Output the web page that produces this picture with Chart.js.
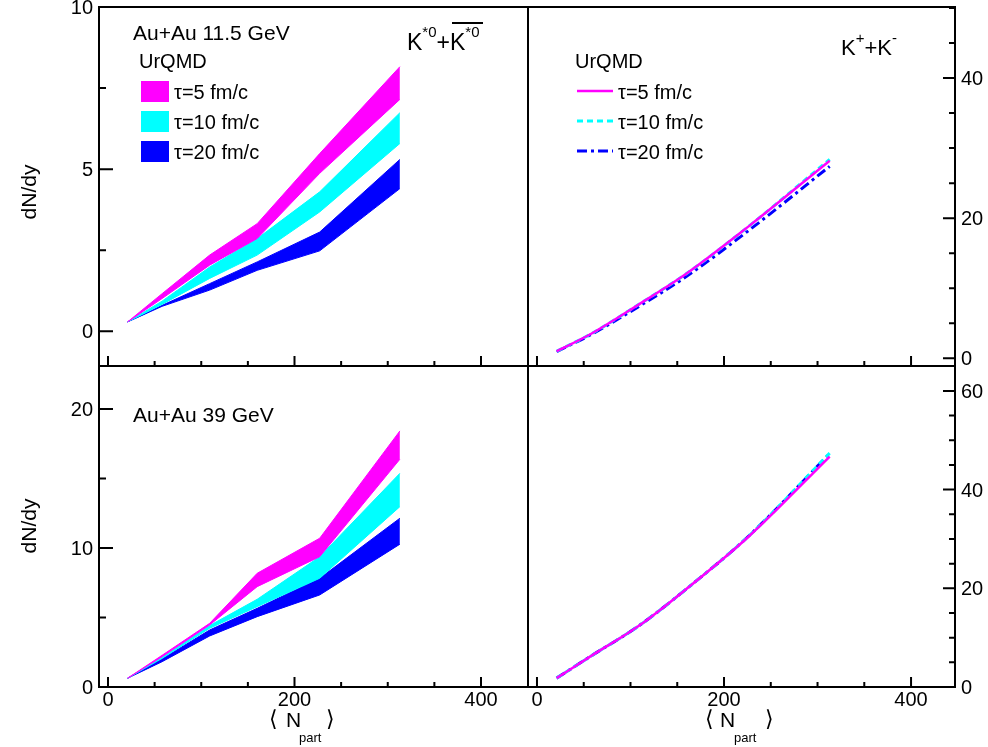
<!DOCTYPE html>
<html>
<head>
<meta charset="utf-8">
<script src="https://cdn.jsdelivr.net/npm/chart.js@4.4.0/dist/chart.umd.min.js"></script>
<style>
  body { margin: 0; background: #fff; }
  #wrap { position: relative; width: 988px; height: 747px; overflow: hidden;
          font-family: "Liberation Sans", Arial, Helvetica, sans-serif; color: #000; }
  canvas { position: absolute; left: 0; top: 0; }
  .t { position: absolute; white-space: nowrap; line-height: 1; z-index: 5; }
  .box { position: absolute; width: 28px; height: 21px; z-index: 5; }
  .up { position: relative; font-size: 15px; }
  .br { position: absolute; line-height: 1; font-family: "DejaVu Sans", sans-serif; font-size: 22px; z-index: 5; }
</style>
</head>
<body>
<div id="wrap">
  <canvas id="tl" width="988" height="747"></canvas>
  <canvas id="tr" width="988" height="747"></canvas>
  <canvas id="bl" width="988" height="747"></canvas>
  <canvas id="br" width="988" height="747"></canvas>

  <!-- top left -->
  <div class="t" style="left:133px;top:22px;font-size:21px;">Au+Au 11.5 GeV</div>
  <div class="t" style="left:139px;top:51px;font-size:20px;">UrQMD</div>
  <div class="box" style="left:141px;top:81px;background:#ff00ff;"></div>
  <div class="box" style="left:141px;top:111px;background:#00ffff;"></div>
  <div class="box" style="left:141px;top:141px;background:#0000ff;"></div>
  <div class="t" style="left:174px;top:82px;font-size:20px;">τ=5 fm/c</div>
  <div class="t" style="left:174px;top:112px;font-size:20px;">τ=10 fm/c</div>
  <div class="t" style="left:174px;top:142px;font-size:20px;">τ=20 fm/c</div>
  <div class="t" style="left:407px;top:31px;font-size:23px;">K<span class="up" style="top:-13px;">*0</span>+K<span class="up" style="top:-13px;">*0</span></div>
  <div style="position:absolute;left:452px;top:22px;width:31px;height:2px;background:#000;z-index:5;"></div>

  <!-- top right -->
  <div class="t" style="left:575px;top:51px;font-size:20px;">UrQMD</div>
  <svg style="position:absolute;left:577px;top:80px;z-index:5;" width="36" height="80">
    <line x1="0" y1="11" x2="36" y2="11" stroke="#ff00ff" stroke-width="2.5"/>
    <line x1="0" y1="41" x2="36" y2="41" stroke="#00ffff" stroke-width="3" stroke-dasharray="6 4"/>
    <line x1="0" y1="71" x2="36" y2="71" stroke="#0000ff" stroke-width="3" stroke-dasharray="10 4 3 4"/>
  </svg>
  <div class="t" style="left:618px;top:82px;font-size:20px;">τ=5 fm/c</div>
  <div class="t" style="left:618px;top:112px;font-size:20px;">τ=10 fm/c</div>
  <div class="t" style="left:618px;top:142px;font-size:20px;">τ=20 fm/c</div>
  <div class="t" style="left:841px;top:37px;font-size:22px;">K<span class="up" style="top:-12px;">+</span>+K<span class="up" style="top:-12px;">-</span></div>

  <!-- bottom left -->
  <div class="t" style="left:133px;top:404px;font-size:21px;">Au+Au 39 GeV</div>

  <!-- axis titles -->
  <div class="t" style="left:28px;top:192px;font-size:21px;transform:translate(-50%,-50%) rotate(-90deg);">dN/dy</div>
  <div class="t" style="left:28px;top:526px;font-size:21px;transform:translate(-50%,-50%) rotate(-90deg);">dN/dy</div>

  <div class="br" style="left:269px;top:708px;">⟨</div>
  <div class="t" style="left:286px;top:709px;font-size:21px;">N</div>
  <div class="t" style="left:299px;top:731px;font-size:13px;">part</div>
  <div class="br" style="left:326px;top:708px;">⟩</div>

  <div class="br" style="left:705px;top:708px;">⟨</div>
  <div class="t" style="left:720px;top:709px;font-size:21px;">N</div>
  <div class="t" style="left:734px;top:731px;font-size:13px;">part</div>
  <div class="br" style="left:765px;top:708px;">⟩</div>
</div>

<script>
// <Npart> of the centrality classes
const npart = [21, 58, 109, 160, 227, 313];

// K*0 + anti-K*0, Au+Au 11.5 GeV (UrQMD bands: upper / lower edge)
const ks11Tau5Hi  = [0.29, 1.16, 2.35, 3.32, 5.48, 8.16];
const ks11Tau5Lo  = [0.29, 1.01, 2.04, 2.86, 4.87, 7.15];
const ks11Tau10Hi = [0.29, 0.93, 1.98, 2.86, 4.30, 6.74];
const ks11Tau10Lo = [0.29, 0.83, 1.63, 2.35, 3.68, 5.79];
const ks11Tau20Hi = [0.29, 0.80, 1.47, 2.14, 3.06, 5.30];
const ks11Tau20Lo = [0.29, 0.77, 1.27, 1.88, 2.48, 4.40];

// K*0 + anti-K*0, Au+Au 39 GeV
const ks39Tau5Hi  = [0.63, 2.28, 4.58, 8.18, 10.70, 18.42];
const ks39Tau5Lo  = [0.63, 2.18, 4.46, 7.22, 9.37, 16.38];
const ks39Tau10Hi = [0.63, 2.14, 4.42, 6.31, 9.37, 15.37];
const ks39Tau10Lo = [0.63, 2.06, 4.22, 5.78, 7.82, 12.97];
const ks39Tau20Hi = [0.63, 2.02, 4.10, 5.66, 7.82, 12.14];
const ks39Tau20Lo = [0.63, 1.82, 3.67, 5.06, 6.62, 10.27];

// K+ + K-, Au+Au 11.5 GeV
const k11Tau5  = [1.00, 3.50, 7.70, 12.10, 18.90, 28.20];
const k11Tau10 = [1.00, 3.50, 7.70, 12.10, 18.90, 28.40];
const k11Tau20 = [0.95, 3.40, 7.40, 11.70, 18.30, 27.40];

// K+ + K-, Au+Au 39 GeV
const k39Tau5  = [1.80, 6.30, 12.40, 19.90, 30.60, 46.70];
const k39Tau10 = [1.80, 6.30, 12.40, 19.90, 30.70, 47.40];
const k39Tau20 = [1.80, 6.30, 12.40, 19.90, 30.70, 47.30];

// tick values
const xMajor = [0, 200, 400];
const xMinor = [50, 100, 150, 250, 300, 350];
const yMajorTL = [0, 5, 10];
const yMinorTL = [2.5, 7.5];
const yMajorBL = [0, 10, 20];
const yMinorBL = [5, 15];
const yMajorTR = [0, 20, 40];
const yMinorTR = [5, 10, 15, 25, 30, 35, 45, 50];
const yMajorBR = [0, 20, 40, 60];
const yMinorBR = [5, 10, 15, 25, 30, 35, 45, 50, 55];

const MAGENTA = '#ff00ff';
const CYAN = '#00ffff';
const BLUE = '#0000ff';

// room kept for tick labels outside each frame
const AXIS_W = 45;
const AXIS_H = 40;

Chart.defaults.font.family = '"Liberation Sans", Arial, Helvetica, sans-serif';
Chart.defaults.color = '#000';

function toXY(xs, ys) {
    return xs.map((x, i) => ({ x: x, y: ys[i] }));
}

// filled band between a lower and an upper edge
function band(lo, hi, color) {
    return [
        { data: toXY(npart, lo), borderColor: color, borderWidth: 1, pointRadius: 0, fill: false },
        { data: toXY(npart, hi), borderColor: color, borderWidth: 1, pointRadius: 0, fill: '-1', backgroundColor: color }
    ];
}

function curve(vals, color, dash, width) {
    return {
        data: toXY(npart, vals), borderColor: color, borderWidth: width, borderDash: dash,
        pointRadius: 0, fill: false, cubicInterpolationMode: 'monotone'
    };
}

// frame + inward ticks, ROOT style
const rootAxes = {
    id: 'rootAxes',
    afterDraw(chart, args, o) {
        const { ctx, chartArea: a, scales: { x, y } } = chart;
        ctx.save();
        ctx.strokeStyle = '#000';
        ctx.lineWidth = 2;
        ctx.strokeRect(a.left, a.top, a.right - a.left, a.bottom - a.top);
        ctx.beginPath();
        xMajor.forEach(v => { const p = x.getPixelForValue(v); ctx.moveTo(p, a.bottom); ctx.lineTo(p, a.bottom - 10); });
        xMinor.forEach(v => { const p = x.getPixelForValue(v); ctx.moveTo(p, a.bottom); ctx.lineTo(p, a.bottom - 5); });
        const x0 = o.side === 'left' ? a.left : a.right;
        const dir = o.side === 'left' ? 1 : -1;
        o.major.forEach(v => { const p = y.getPixelForValue(v); ctx.moveTo(x0, p); ctx.lineTo(x0 + dir * o.len, p); });
        o.minor.forEach(v => { const p = y.getPixelForValue(v); ctx.moveTo(x0, p); ctx.lineTo(x0 + dir * o.len / 2, p); });
        ctx.stroke();
        ctx.restore();
    }
};

function panel(id, box, xr, yr, major, minor, side, showX, datasets) {
    const fixTicks = vals => s => { s.ticks = vals.map(v => ({ value: v })); };
    const fixSize = s => {
        if (s.isHorizontal()) s.height = AXIS_H; else s.width = AXIS_W;
        s.paddingTop = 0; s.paddingBottom = 0; s.paddingLeft = 0; s.paddingRight = 0;
    };
    const pad = {
        left: side === 'left' ? box.l - AXIS_W : box.l,
        right: side === 'right' ? 988 - box.r - AXIS_W : 988 - box.r,
        top: box.t,
        bottom: 747 - box.b - AXIS_H
    };
    return new Chart(document.getElementById(id), {
        type: 'line',
        data: { datasets: datasets },
        options: {
            responsive: false,
            animation: false,
            events: [],
            layout: { padding: pad },
            plugins: {
                legend: { display: false },
                tooltip: { enabled: false },
                rootAxes: { side: side, major: major, minor: minor, len: side === 'left' ? 14 : 12 }
            },
            scales: {
                x: {
                    type: 'linear', position: 'bottom', min: xr[0], max: xr[1],
                    grid: { display: false, drawTicks: false }, border: { display: false },
                    ticks: { display: showX, padding: 1, font: { size: 20 }, maxRotation: 0, autoSkip: false },
                    afterBuildTicks: fixTicks(xMajor), afterFit: fixSize
                },
                y: {
                    type: 'linear', position: side, min: yr[0], max: yr[1],
                    grid: { display: false, drawTicks: false }, border: { display: false },
                    ticks: { padding: 6, font: { size: 20 }, autoSkip: false, labelOffset: 1.5 },
                    afterBuildTicks: fixTicks(major), afterFit: fixSize
                }
            }
        },
        plugins: [rootAxes]
    });
}

panel('tl', { l: 99, r: 528, t: 7, b: 366 }, [-9.65, 450.4], [-1.07, 10], yMajorTL, yMinorTL, 'left', false,
    [].concat(band(ks11Tau5Lo, ks11Tau5Hi, MAGENTA), band(ks11Tau10Lo, ks11Tau10Hi, CYAN), band(ks11Tau20Lo, ks11Tau20Hi, BLUE)));

panel('tr', { l: 528, r: 955, t: 7, b: 366 }, [-9.6, 447], [-1.1, 50.14], yMajorTR, yMinorTR, 'right', false,
    [curve(k11Tau5, MAGENTA, [], 2.5), curve(k11Tau10, CYAN, [6, 4], 3), curve(k11Tau20, BLUE, [10, 4, 3, 4], 3)]);

panel('bl', { l: 99, r: 528, t: 366, b: 687 }, [-9.65, 450.4], [0, 23.09], yMajorBL, yMinorBL, 'left', true,
    [].concat(band(ks39Tau5Lo, ks39Tau5Hi, MAGENTA), band(ks39Tau10Lo, ks39Tau10Hi, CYAN), band(ks39Tau20Lo, ks39Tau20Hi, BLUE)));

panel('br', { l: 528, r: 955, t: 366, b: 687 }, [-9.6, 447], [0, 65.05], yMajorBR, yMinorBR, 'right', true,
    [curve(k39Tau5, MAGENTA, [], 2.5), curve(k39Tau10, CYAN, [6, 4], 3), curve(k39Tau20, BLUE, [10, 4, 3, 4], 3)]);
</script>
</body>
</html>
